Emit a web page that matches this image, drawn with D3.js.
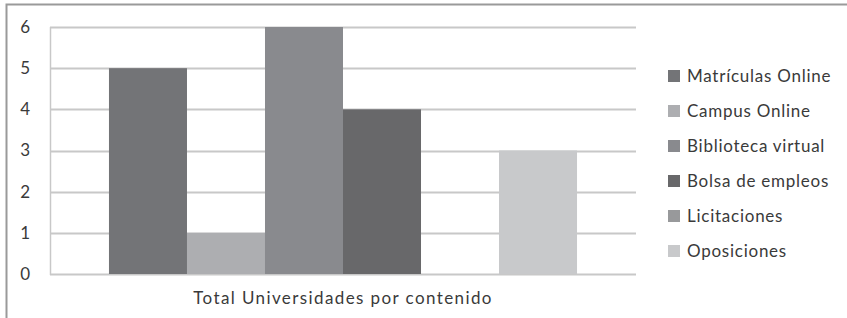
<!DOCTYPE html>
<html lang="es">
<head>
  <meta charset="UTF-8">
  <title>Total Universidades por contenido</title>
  <script src="https://d3js.org/d3.v7.min.js"></script>
  <style>
    body { margin: 0; background: #fff; }
    text { font-family: Lato, "Open Sans", sans-serif; fill: #3a3a3a; }
    .grid line { stroke: #c8c8c8; stroke-width: 2px; }
  </style>
</head>
<body>
  <svg width="847" height="318"></svg>
  <script>
    const groupLabel = "Total Universidades por contenido";
    const series = ["Matrículas Online", "Campus Online", "Biblioteca virtual", "Bolsa de empleos", "Licitaciones", "Oposiciones"];
    const values = [5, 1, 6, 4, 0, 3];
    const colors = ["#737477", "#adaeb1", "#898a8e", "#68686a", "#98999b", "#c8c9cb"];
    const yTicks = [0, 1, 2, 3, 4, 5, 6];

    const svg = d3.select("svg");
    const margin = { left: 50, top: 27, right: 636, bottom: 274 };

    // outer frame (only top and left edges visible)
    svg.append("path")
      .attr("d", "M6.5,318 V4.5 H847")
      .attr("fill", "none")
      .attr("stroke", "#9a9a9a")
      .attr("stroke-width", 2);

    const y = d3.scaleLinear().domain([0, 6]).range([margin.bottom, margin.top]);
    const x0 = d3.scaleBand().domain([groupLabel]).range([margin.left, margin.right]).paddingInner(0).paddingOuter(0.126);
    const x1 = d3.scaleBand().domain(series).range([x0(groupLabel), x0(groupLabel) + x0.bandwidth()]).padding(0);

    // grid lines
    svg.append("g").attr("class", "grid")
      .selectAll("line").data(yTicks).join("line")
      .attr("x1", margin.left).attr("x2", margin.right)
      .attr("y1", d => Math.round(y(d)) + 0.5).attr("y2", d => Math.round(y(d)) + 0.5);

    // left axis line
    svg.append("line")
      .attr("x1", margin.left + 0.5).attr("x2", margin.left + 0.5)
      .attr("y1", margin.top).attr("y2", margin.bottom + 1)
      .attr("stroke", "#c8c8c8").attr("stroke-width", 1.5);

    // bars
    svg.append("g").selectAll("rect").data(series).join("rect")
      .attr("x", d => x1(d))
      .attr("width", x1.bandwidth())
      .attr("y", (d, i) => y(values[i]))
      .attr("height", (d, i) => y(0) - y(values[i]))
      .attr("fill", (d, i) => colors[i]);

    // y axis labels
    const yAxis = d3.axisLeft(y).tickValues(yTicks).tickSize(0).tickPadding(20).tickFormat(d3.format("d"));
    const ya = svg.append("g").attr("transform", `translate(${margin.left},0)`).call(yAxis);
    ya.select(".domain").remove();
    ya.selectAll("text").style("font-size", "17px").style("font-family", "Lato, sans-serif").attr("fill", "#444");

    // category label
    svg.append("text")
      .attr("x", x0(groupLabel) + x0.bandwidth() / 2)
      .attr("y", 304)
      .attr("text-anchor", "middle")
      .style("font-size", "17px")
      .style("letter-spacing", "1.4px")
      .text(groupLabel);

    // legend
    const legend = svg.append("g").selectAll("g").data(series).join("g")
      .attr("transform", (d, i) => `translate(668,${76 + i * 35})`);
    legend.append("rect")
      .attr("x", 0).attr("y", -6).attr("width", 12).attr("height", 12)
      .attr("fill", (d, i) => colors[i]);
    legend.append("text")
      .attr("x", 19).attr("y", 0).attr("dy", "0.35em")
      .style("font-size", "17px")
      .style("letter-spacing", "0.75px")
      .text(d => d);
  </script>
</body>
</html>
